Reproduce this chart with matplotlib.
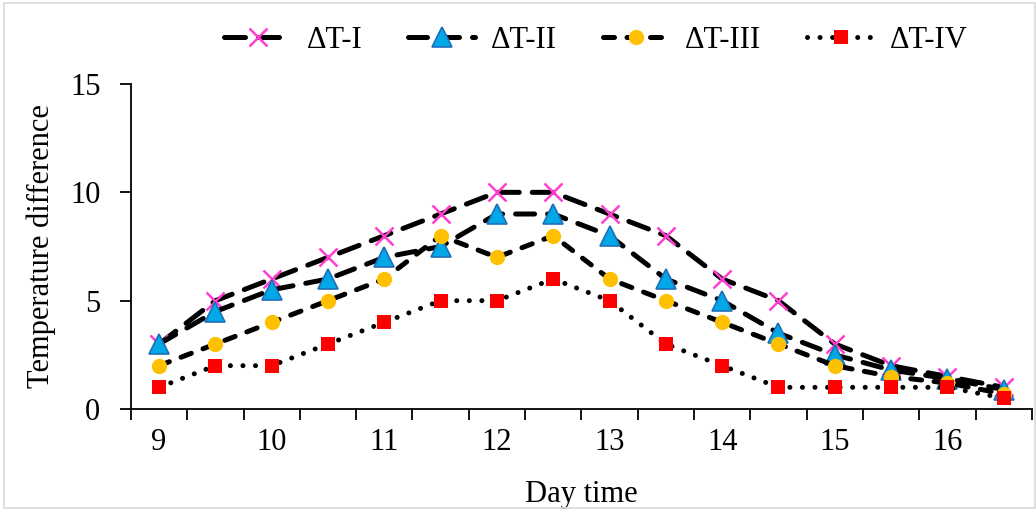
import matplotlib
matplotlib.use("Agg")
import matplotlib.pyplot as plt
from matplotlib.patches import Rectangle

# Hourly readings from 9:00 to 16:30
hours = [9, 9.5, 10, 10.5, 11, 11.5, 12, 12.5, 13, 13.5, 14, 14.5, 15, 15.5, 16, 16.5]
tick_labels = ["9", "10", "11", "12", "13", "14", "15", "16"]

dt_1 = [3, 5, 6, 7, 8, 9, 10, 10, 9, 8, 6, 5, 3, 2, 1.5, 1]
dt_2 = [3, 4.5, 5.5, 6, 7, 7.5, 9, 9, 8, 6, 5, 3.5, 2.5, 1.8, 1.4, 0.9]
dt_3 = [2, 3, 4, 5, 6, 8, 7, 8, 6, 5, 4, 3, 2, 1.5, 1.2, 0.7]
dt_4 = [1, 2, 2, 3, 4, 5, 5, 6, 5, 3, 2, 1, 1, 1, 1, 0.5]

series_names = ["ΔT-I", "ΔT-II", "ΔT-III", "ΔT-IV"]

plt.rcParams["font.family"] = ["Liberation Serif", "DejaVu Serif"]
FS = 22

fig = plt.figure(figsize=(10.36, 5.11), dpi=100)
ax = fig.add_axes([0.1264, 0.1996, 0.8696, 0.636])

pos = list(range(len(hours)))
lw = 3.6

ax.plot(pos, dt_1, color="black", lw=lw, dashes=(4.2, 2.6), dash_capstyle="round",
        marker="x", ms=13, mew=1.8, mec="#FF3FD0", mfc="#FF3FD0", label=series_names[0])
ax.plot(pos, dt_2, color="black", lw=lw, dashes=(3.8, 2.6), dash_capstyle="round",
        marker="^", ms=14, mew=1.2, mec="#1F6FB8", mfc="#00A8E8", label=series_names[1])
ax.plot(pos, dt_3, color="black", lw=lw, dashes=(2.2, 2.5), dash_capstyle="round",
        marker="o", ms=11, mew=0, mfc="#FFC000", label=series_names[2])
ax.plot(pos, dt_4, color="black", lw=lw, dashes=(0.01, 2.5), dash_capstyle="round",
        marker="s", ms=10, mew=0, mfc="#FF0000", label=series_names[3])

ax.set_xlim(-0.5, len(hours) - 0.5)
ax.set_ylim(0, 15)
ax.set_yticks([0, 5, 10, 15])

# Category boundaries carry the tick marks; labels sit on every other category
ax.set_xticks([p - 0.5 for p in range(len(hours) + 1)])
ax.set_xticklabels([])
ax.set_xticks(pos[::2], minor=True)
ax.set_xticklabels(tick_labels, minor=True)
ax.tick_params(axis="x", which="major", length=8, width=1.3, direction="out")
ax.tick_params(axis="x", which="minor", length=0, pad=14, labelsize=FS)
ax.tick_params(axis="y", length=8, width=1.3, direction="out", pad=14, labelsize=FS)

for side in ("top", "right"):
    ax.spines[side].set_visible(False)
for side in ("left", "bottom"):
    ax.spines[side].set_linewidth(1.3)

ax.set_xlabel("Day time", fontsize=FS, labelpad=16)
ax.set_ylabel("Temperature difference", fontsize=FS, labelpad=10)

leg = ax.legend(loc="center", bbox_to_anchor=(0.516, 1.135), ncol=4, frameon=False,
                fontsize=FS, handlelength=2.2, handletextpad=0.5,
                columnspacing=1.5, numpoints=1, borderpad=0)

fig.patches.append(Rectangle((4 / 1036, 3 / 511), 1 - 5 / 1036, 1 - 6 / 511,
                             transform=fig.transFigure, fill=False,
                             edgecolor="#D9D9D9", lw=1.2))

fig.savefig("out.png", dpi=100)
